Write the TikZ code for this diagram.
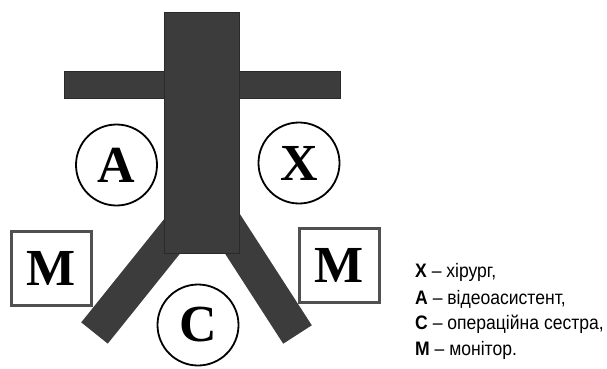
\documentclass[tikz,border=0pt]{standalone}
\usepackage{fontspec}
\setmainfont{Liberation Serif}
\newfontfamily\legfont[FakeStretch=0.9]{Liberation Sans}
\definecolor{bodygray}{HTML}{3C3C3C}
\definecolor{edgegray}{HTML}{2A2A2A}
\definecolor{boxgray}{HTML}{505050}
\begin{document}
\begin{tikzpicture}[x=1pt,y=-1pt,
  block/.style={fill=bodygray,draw=edgegray,line width=0.8pt},
  leg/.style={draw=bodygray,line width=34pt,line cap=butt},
  person/.style={circle,draw=black,line width=1.8pt,fill=white,minimum size=81pt,inner sep=0pt,font=\fontsize{52}{52}\selectfont\bfseries},
  monitor/.style={rectangle,draw=boxgray,line width=3pt,fill=white,minimum width=80pt,minimum height=74pt,inner sep=0pt,font=\fontsize{52}{52}\selectfont\bfseries},
  legend/.style={anchor=base west,inner sep=0pt,font=\legfont\fontsize{19.5}{19.5}\selectfont}]
\useasboundingbox (0,0) rectangle (607,369);
% legs
\coordinate (lt) at (186,219);
\coordinate (lb) at (94.5,333);
\coordinate (rt) at (219,213);
\coordinate (rb) at (297.5,334.5);
\draw[leg] (lt) -- (lb);
\draw[leg] (rt) -- (rb);
% arms and body
\path[block] (64,71) rectangle (340,98);
\path[block] (164,12) rectangle (239,253);
% people
\node[person] (A) at (116.5,165) {A};
\node[person] (X) at (299,163) {X};
\node[person] (C) at (198,325) {C};
% monitors
\node[monitor] (ML) at (51.5,268.5) {M};
\node[monitor] (MR) at (339,265) {M};
% legend
\node[legend] (l1) at (415,277.5) {\textbf{X} – хірург,};
\node[legend] (l2) at (415,304) {\textbf{A} – відеоасистент,};
\node[legend] (l3) at (415,329.5) {\textbf{C} – операційна сестра,};
\node[legend] (l4) at (415,355) {\textbf{M} – монітор.};
\end{tikzpicture}
\end{document}
